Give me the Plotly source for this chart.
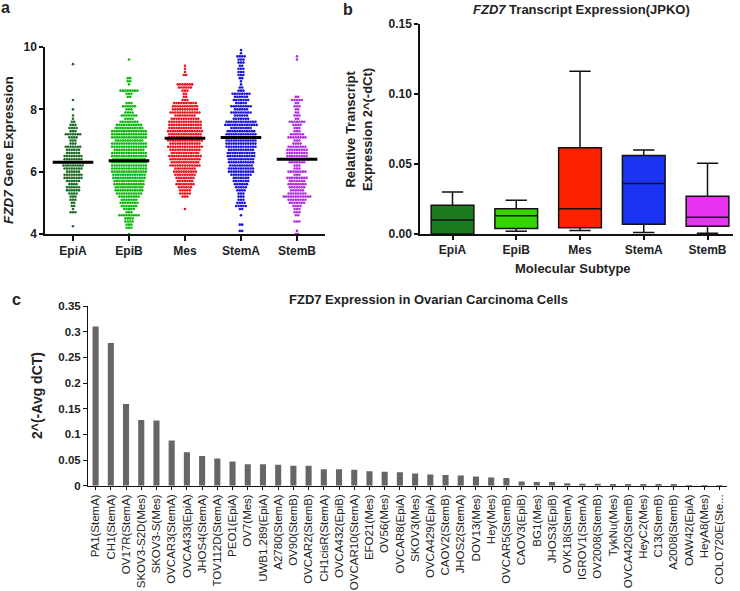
import plotly.graph_objects as go

# panel a: swarm rows, (expression level, number of samples at that level)
subtypes = ["EpiA", "EpiB", "Mes", "StemA", "StemB"]
swarm_colors = ["#1f6b2a", "#0cb80c", "#e8141e", "#1a14d8", "#b030e0"]

epia_levels = [9.45, 8.3, 8.0, 7.8, 7.7, 7.6, 7.5, 7.4, 7.3, 7.2, 7.1, 7.0, 6.9, 6.8, 6.7, 6.6, 6.5, 6.4, 6.3, 6.2,
               6.1, 6.0, 5.9, 5.8, 5.7, 5.6, 5.5, 5.4, 5.3, 5.2, 5.1, 5.0, 4.9, 4.8, 4.7, 4.25]
epia_counts = [1, 1, 1, 1, 1, 2, 3, 4, 3, 7, 4, 3, 3, 7, 6, 6, 8, 8, 10, 9,
               8, 6, 8, 8, 6, 4, 6, 6, 4, 3, 3, 2, 2, 1, 3, 1]

epib_levels = [9.6, 9.0, 8.9, 8.8, 8.6, 8.5, 8.4, 8.2, 8.1, 8.0, 7.9, 7.8, 7.7, 7.6, 7.5, 7.4, 7.3, 7.2, 7.1, 7.0,
               6.9, 6.8, 6.7, 6.6, 6.5, 6.4, 6.3, 6.2, 6.1, 6.0, 5.9, 5.8, 5.7, 5.6, 5.5, 5.4, 5.3, 5.2, 5.1, 5.0,
               4.9, 4.8, 4.7, 4.6, 4.5, 4.4, 4.3, 4.2, 4.0]
epib_counts = [1, 2, 2, 1, 8, 3, 2, 3, 6, 3, 4, 7, 4, 8, 11, 12, 15, 15, 15, 12,
               15, 15, 13, 15, 15, 14, 15, 15, 15, 15, 14, 14, 13, 13, 12, 12, 11, 9, 7, 8,
               7, 5, 3, 9, 4, 4, 3, 3, 1]

mes_levels = [9.4, 9.3, 9.2, 9.1, 8.8, 8.7, 8.6, 8.5, 8.4, 8.3, 8.2, 8.1, 8.0, 7.9, 7.8, 7.7, 7.6, 7.5, 7.4, 7.3,
              7.2, 7.1, 7.0, 6.9, 6.8, 6.7, 6.6, 6.5, 6.4, 6.3, 6.2, 6.1, 6.0, 5.9, 5.8, 5.7, 5.6, 5.5, 5.4, 5.3,
              5.2, 4.8]
mes_counts = [1, 1, 1, 2, 7, 6, 3, 2, 2, 3, 10, 11, 11, 13, 9, 12, 14, 14, 14, 15,
              14, 14, 15, 13, 15, 13, 12, 14, 13, 12, 13, 9, 10, 9, 8, 7, 8, 6, 5, 5,
              3, 1]

stema_levels = [9.9, 9.8, 9.7, 9.6, 9.5, 9.4, 9.3, 9.2, 9.1, 9.0, 8.9, 8.8, 8.7, 8.6, 8.5, 8.4, 8.3, 8.2, 8.1, 8.0,
                7.9, 7.8, 7.7, 7.6, 7.5, 7.4, 7.3, 7.2, 7.1, 7.0, 6.9, 6.8, 6.7, 6.6, 6.5, 6.4, 6.3, 6.2, 6.1, 6.0,
                5.9, 5.8, 5.7, 5.6, 5.5, 5.4, 5.3, 5.2, 5.1, 5.0, 4.9, 4.8, 4.6, 4.3, 4.1]
stema_counts = [1, 1, 4, 3, 3, 2, 3, 3, 3, 2, 1, 1, 2, 3, 8, 6, 7, 5, 9, 6,
                9, 6, 7, 13, 14, 9, 12, 13, 14, 13, 13, 13, 11, 12, 12, 11, 11, 10, 11, 11,
                9, 7, 7, 6, 5, 4, 3, 3, 3, 4, 5, 2, 1, 2, 2]

stemb_levels = [9.7, 9.6, 8.4, 8.3, 8.2, 8.1, 8.0, 7.9, 7.8, 7.7, 7.6, 7.5, 7.4, 7.3, 7.2, 7.1, 7.0, 6.9, 6.8, 6.7,
                6.6, 6.5, 6.4, 6.3, 6.2, 6.1, 6.0, 5.9, 5.8, 5.7, 5.6, 5.5, 5.4, 5.3, 5.2, 5.1, 5.0, 4.9, 4.8, 4.7,
                4.6, 4.4, 4.1, 4.0]
stemb_counts = [1, 1, 2, 5, 2, 3, 2, 2, 3, 2, 7, 4, 3, 3, 6, 8, 3, 4, 8, 9,
                9, 9, 10, 7, 3, 3, 8, 3, 9, 7, 8, 7, 6, 8, 12, 8, 7, 4, 3, 3,
                2, 3, 1, 2]

swarm_levels = [epia_levels, epib_levels, mes_levels, stema_levels, stemb_levels]
swarm_counts = [epia_counts, epib_counts, mes_counts, stema_counts, stemb_counts]
swarm_means = [6.3, 6.35, 7.07, 7.1, 6.4]

# panel b: box summaries
box_colors = ["#1a7a1f", "#33d400", "#ff2200", "#1a33f5", "#e633f0"]
box_low = [0.0, 0.002, 0.0025, 0.001, 0.0005]
box_q1 = [0.0, 0.004, 0.0045, 0.007, 0.0055]
box_median = [0.010, 0.013, 0.018, 0.036, 0.012]
box_q3 = [0.0205, 0.018, 0.0615, 0.056, 0.027]
box_high = [0.030, 0.024, 0.116, 0.060, 0.0505]

# panel c: cell lines
cell_lines = [
    "PA1(StemA)", "CH1(StemA)", "OV17R(StemA)", "SKOV3-S2D(Mes)", "SKOV3-S(Mes)", "OVCAR3(StemA)",
    "OVCA433(EpiA)", "JHOS4(StemA)", "TOV112D(StemA)", "PEO1(EpiA)", "OV7(Mes)", "UWB1.289(EpiA)",
    "A2780(StemA)", "OV90(StemB)", "OVCAR2(StemB)", "CH1cisR(StemA)", "OVCA432(EpiB)", "OVCAR10(StemA)",
    "EFO21(Mes)", "OV56(Mes)", "OVCAR8(EpiA)", "SKOV3(Mes)", "OVCA429(EpiA)", "CAOV2(StemB)",
    "JHOS2(StemA)", "DOV13(Mes)", "Hey(Mes)", "OVCAR5(StemB)", "CAOV3(EpiB)", "BG1(Mes)",
    "JHOS3(EpiB)", "OVK18(StemA)", "IGROV1(StemA)", "OV2008(StemB)", "TykNu(Mes)", "OVCA420(StemB)",
    "HeyC2(Mes)", "C13(StemB)", "A2008(StemB)", "OAW42(EpiA)", "HeyA8(Mes)", "COLO720E(Ste...",
]
cell_values = [
    0.31, 0.278, 0.159, 0.128, 0.127, 0.088, 0.065, 0.058, 0.053, 0.047, 0.042, 0.042,
    0.041, 0.039, 0.039, 0.032, 0.032, 0.031, 0.028, 0.027, 0.026, 0.024, 0.022, 0.021,
    0.020, 0.018, 0.016, 0.015, 0.008, 0.007, 0.007, 0.005, 0.004, 0.004, 0.003, 0.003,
    0.002, 0.002, 0.002, 0.001, 0.001, 0.001,
]

WIDTH, HEIGHT = 740, 591
FONT = "Liberation Sans"
DARK = "#222"
DOT_STEP = 0.043  # horizontal dot spacing inside a swarm row, in category units


def px(x):
    return x / WIDTH


def py(y):
    return 1 - y / HEIGHT


def swarm_xy(center, levels, counts):
    xs, ys = [], []
    for level, count in zip(levels, counts):
        for k in range(count):
            xs.append(center + (k - (count - 1) / 2) * DOT_STEP)
            ys.append(level)
    return xs, ys


def axis_style(size=12, weight=700):
    return dict(
        automargin=False,
        showgrid=False, zeroline=False, showline=True, linecolor="#111", linewidth=1.5,
        ticks="outside", tickcolor="#111", tickwidth=1.5, ticklen=4,
        tickfont=dict(family=FONT, size=size, color=DARK, weight=weight),
    )


def label(text, x, y, size=13, angle=0):
    return dict(text=text, x=px(x), y=py(y), xref="paper", yref="paper", showarrow=False,
                xanchor="center", yanchor="middle", textangle=angle,
                font=dict(family=FONT, size=size, color=DARK))


fig = go.Figure()

for i, name in enumerate(subtypes):
    xs, ys = swarm_xy(i, swarm_levels[i], swarm_counts[i])
    fig.add_trace(go.Scatter(
        x=xs, y=ys, mode="markers", name=name, xaxis="x", yaxis="y",
        marker=dict(size=2.6, color=swarm_colors[i]),
    ))
fig.add_trace(go.Scatter(
    x=list(range(5)), y=swarm_means, mode="markers", name="mean", xaxis="x", yaxis="y",
    marker=dict(symbol="line-ew", size=29, line=dict(width=3, color="#000")),
))

for i, name in enumerate(subtypes):
    fig.add_trace(go.Box(
        x=[i], q1=[box_q1[i]], median=[box_median[i]], q3=[box_q3[i]],
        lowerfence=[box_low[i]], upperfence=[box_high[i]],
        name=name, xaxis="x2", yaxis="y2", width=0.67, whiskerwidth=0.5,
        fillcolor=box_colors[i], line=dict(color="#111", width=1.5),
    ))

fig.add_trace(go.Bar(
    x=list(range(len(cell_lines))), y=cell_values, xaxis="x3", yaxis="y3",
    width=0.4, marker=dict(color="#666666", line=dict(width=0)),
))

fig.update_layout(
    width=WIDTH, height=HEIGHT, margin=dict(l=0, r=0, t=0, b=0),
    paper_bgcolor="white", plot_bgcolor="white", showlegend=False,
    font=dict(family=FONT, color=DARK),
    xaxis=dict(axis_style(), domain=[px(45), px(325)], range=[-0.5, 4.5],
               tickvals=list(range(5)), ticktext=subtypes, ticklen=5),
    yaxis=dict(axis_style(), domain=[py(234), py(47)], range=[4, 10], tickvals=[4, 6, 8, 10], anchor="x"),
    xaxis2=dict(axis_style(), domain=[px(420), px(733)], range=[-0.51, 4.4], anchor="y2",
                tickvals=list(range(5)), ticktext=subtypes),
    yaxis2=dict(axis_style(), domain=[py(234), py(23.7)], range=[0, 0.15], anchor="x2",
                tickvals=[0, 0.05, 0.10, 0.15], tickformat=".2f"),
    xaxis3=dict(axis_style(size=11.5, weight=400), domain=[px(88), px(727)], range=[-0.5, 41.5], anchor="y3",
                tickvals=list(range(len(cell_lines))), ticktext=cell_lines, tickangle=-90,
                tickson="boundaries", linewidth=1, tickwidth=1, ticklen=3),
    yaxis3=dict(axis_style(size=11.5), domain=[py(485.7), py(306)], range=[0, 0.3501], anchor="x3",
                tickvals=[0, 0.05, 0.1, 0.15, 0.2, 0.25, 0.3, 0.35],
                ticktext=["0", "0.05", "0.1", "0.15", "0.2", "0.25", "0.3", "0.35"],
                linewidth=1, tickwidth=1),
    annotations=[
        label("<b>a</b>", 5, 8, size=16),
        label("<b>b</b>", 348, 9, size=16),
        label("<b>c</b>", 16, 299, size=16),
        label("<b><i>FZD7</i> Gene Expression</b>", 8, 150, size=13.5, angle=-90),
        label("<b><i>FZD7</i> Transcript Expression(JPKO)</b>", 581, 9, size=13),
        label("<b>Relative Transcript<br>Expression 2^(-dCt)</b>", 359, 130, size=13, angle=-90),
        label("<b>Molecular Subtype</b>", 573, 268, size=13),
        label("<b>FZD7 Expression in Ovarian Carcinoma Cells</b>", 428, 299, size=13),
        label("<b>2^(-Avg dCT)</b>", 37, 396, size=14, angle=-90),
    ],
)

# the page's default body margin would push the figure 8px in and clip it
fig.write_html(
    "out.html",
    config=dict(displayModeBar=False),
    post_script="document.body.style.margin='0';document.documentElement.style.overflow='hidden';",
)
